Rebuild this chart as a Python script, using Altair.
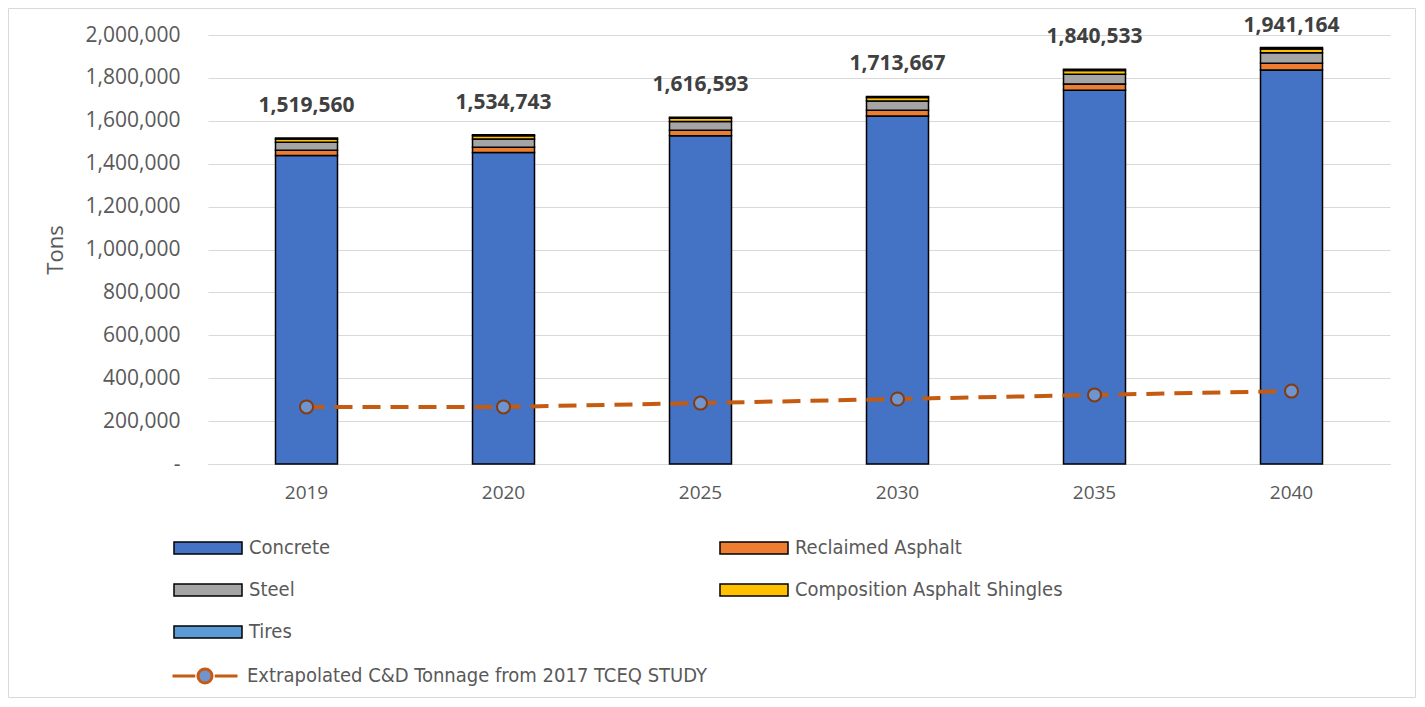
import altair as alt
import pandas as pd

years = ["2019", "2020", "2025", "2030", "2035", "2040"]
materials = ["Concrete", "Reclaimed Asphalt", "Steel", "Composition Asphalt Shingles", "Tires"]
concrete = [1438263, 1452634, 1530105, 1621986, 1742064, 1837312]
reclaimed_asphalt = [24313, 24556, 25865, 27419, 29449, 31059]
steel = [37989, 38369, 40415, 42842, 46013, 48529]
shingles = [14132, 14273, 15034, 15937, 17117, 18053]
tires = [4863, 4911, 5174, 5483, 5890, 6211]
totals = [1519560, 1534743, 1616593, 1713667, 1840533, 1941164]
extrapolated = [266000, 266000, 284000, 303000, 322000, 340000]
line_name = "Extrapolated C&D Tonnage from 2017 TCEQ STUDY"
colors = ["#4472C4", "#ED7D31", "#A5A5A5", "#FFC000", "#5B9BD5"]

series = [concrete, reclaimed_asphalt, steel, shingles, tires]
rows = []
for k, (m, vals) in enumerate(zip(materials, series)):
    for y, v in zip(years, vals):
        rows.append({"year": y, "material": m, "tons": v, "order": k})
bar_df = pd.DataFrame(rows)
tot_df = pd.DataFrame({"year": years, "total": totals})
line_df = pd.DataFrame({"year": years, "value": extrapolated, "series": [line_name] * len(years)})

W, H = 1182, 429
PL, PT, PR, PB = 200, 27, 27, 235

AX_FONT = "Open Sans"
LEG_FONT = "Liberation Sans Narrow, DejaVu Sans Condensed, Arial Narrow, sans-serif"
GRAY_TXT = "#595959"

x_enc = alt.X(
    "year:N", sort=years,
    scale=alt.Scale(paddingInner=0, paddingOuter=0),
    axis=alt.Axis(title=None, labelAngle=0, ticks=False, domainColor="#D9D9D9",
                  domainWidth=1, labelFont=AX_FONT, labelFontSize=19,
                  labelColor=GRAY_TXT, labelPadding=19, grid=False),
)
y_scale = alt.Scale(domain=[0, 2000000], nice=False)

border = alt.Chart(pd.DataFrame({"a": [0]})).mark_rect(
    fillOpacity=0, stroke="#D9D9D9", strokeWidth=1
).encode(
    x=alt.value(-PL + 0.5), x2=alt.value(W + PR - 1.5),
    y=alt.value(-PT + 0.5), y2=alt.value(H + PB - 1.5)
)

bars = alt.Chart(bar_df).mark_bar(size=62, stroke="black", strokeWidth=1.5).encode(
    x=x_enc,
    y=alt.Y("tons:Q", stack="zero", scale=y_scale,
            axis=alt.Axis(values=list(range(0, 2000001, 200000)),
                          labelExpr="datum.value == 0 ? '-' : format(datum.value, ',')",
                          title="Tons", titleFont=AX_FONT, titleFontSize=22,
                          titleFontWeight="normal", titleColor=GRAY_TXT, titlePadding=18,
                          labelFont=AX_FONT, labelFontSize=21, labelColor=GRAY_TXT,
                          labelPadding=28, domain=False, ticks=False,
                          gridColor="#D9D9D9", gridWidth=1)),
    fill=alt.Fill("material:N", sort=materials,
                  scale=alt.Scale(domain=materials, range=colors),
                  legend=alt.Legend(title=None, orient="none", legendX=-10, legendY=503,
                                    direction="horizontal",
                                    columns=2, columnPadding=385, rowPadding=22,
                                    gridAlign="each", padding=0,
                                    symbolType="M-5,-0.9H5V0.9H-5Z", symbolSize=185,
                                    symbolStrokeColor="black", symbolStrokeWidth=1.5,
                                    labelFont=LEG_FONT, labelFontSize=20,
                                    labelColor=GRAY_TXT, labelOffset=31, labelLimit=400)),
    order=alt.Order("order:Q", sort="ascending"),
)

labels = alt.Chart(tot_df).transform_calculate(
    label_y="min(datum.total, 1895000)"
).mark_text(
    dy=-32, font=AX_FONT, fontWeight="bold", fontSize=21, color="#404040"
).encode(
    x=alt.X("year:N", sort=years),
    y=alt.Y("label_y:Q", scale=y_scale),
    text=alt.Text("total:Q", format=","),
)

line = alt.Chart(line_df).mark_line(strokeWidth=4, strokeDash=[18, 10]).encode(
    x=alt.X("year:N", sort=years),
    y=alt.Y("value:Q", scale=y_scale),
    stroke=alt.Stroke("series:N", scale=alt.Scale(domain=[line_name], range=["#C55A11"]),
                      legend=alt.Legend(title=None, orient="none", legendX=-13, legendY=631,
                                        padding=0,
                                        symbolType="M-5,0H-1.5M1.5,0H5M-1.08,0A1.08,1.08,0,1,1,1.08,0A1.08,1.08,0,1,1,-1.08,0Z",
                                        symbolSize=169, symbolStrokeWidth=3,
                                        symbolFillColor="#7094D0", symbolDash=[1000, 0],
                                        labelFont=LEG_FONT, labelFontSize=20,
                                        labelColor=GRAY_TXT, labelOffset=32, labelLimit=600)),
)

points = alt.Chart(line_df).mark_point(
    filled=True, size=170, fill="#7094D0", stroke="#843C0C", strokeWidth=2, opacity=1
).encode(
    x=alt.X("year:N", sort=years),
    y=alt.Y("value:Q", scale=y_scale),
)

chart = alt.layer(border, bars, labels, line, points).resolve_scale(
    fill="independent", stroke="independent"
).properties(
    width=W, height=H,
    padding={"left": PL, "top": PT, "right": PR, "bottom": PB},
    autosize=alt.AutoSizeParams(type="none"),
    background="white",
).configure_view(strokeWidth=0)

chart.save("out.html", embed_options={"renderer": "svg", "actions": False})
